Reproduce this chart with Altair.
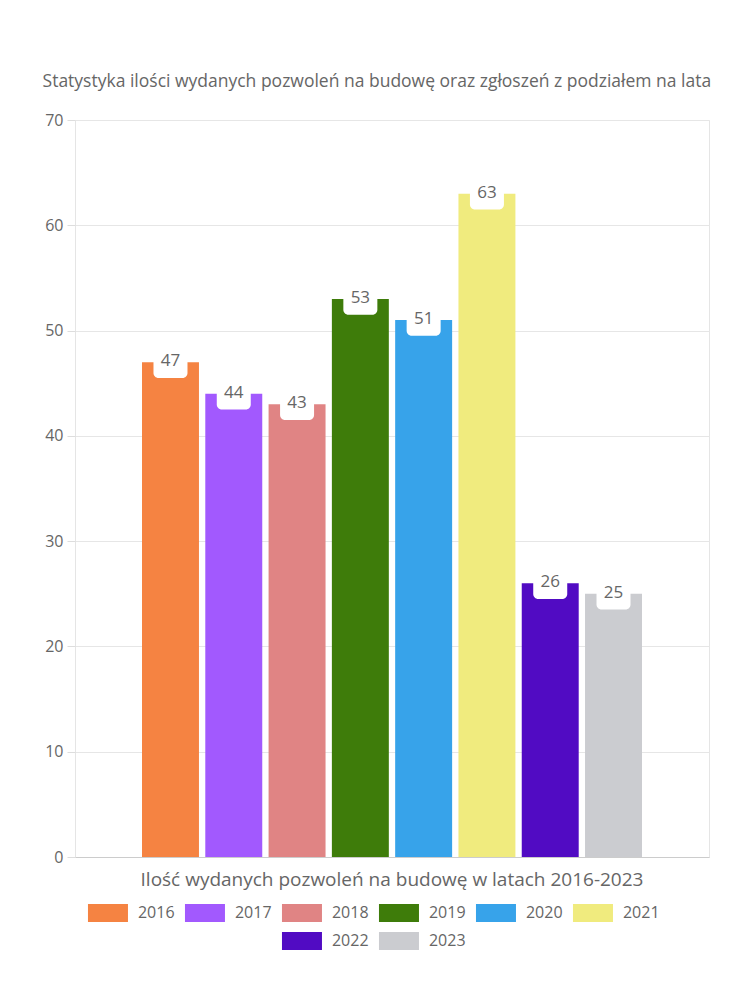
import altair as alt
import pandas as pd

FONT = "Open Sans"
GREY = "#666666"

title_text = "Statystyka ilości wydanych pozwoleń na budowę oraz zgłoszeń z podziałem na lata"
category = "Ilość wydanych pozwoleń na budowę w latach 2016-2023"
years = ["2016", "2017", "2018", "2019", "2020", "2021", "2022", "2023"]
values = [47, 44, 43, 53, 51, 63, 26, 25]
colors = ["#F58342", "#A259FE", "#E08484", "#3E7C0A", "#37A3EA", "#F0EB7E", "#510BC3", "#CBCCD0"]
y_ticks = [0, 10, 20, 30, 40, 50, 60, 70]

df = pd.DataFrame({"year": years, "value": values, "cat": [category] * len(years)})

color_scale = alt.Scale(domain=years, range=colors)

base = alt.Chart(df).encode(
    x=alt.X(
        "cat:N",
        scale=alt.Scale(paddingOuter=0.134, paddingInner=0),
        axis=alt.Axis(
            title=None, labelAngle=0, labelFontSize=19, labelColor=GREY, labelFont=FONT,
            ticks=False, domainColor="#cccccc", labelPadding=13, labelLimit=0,
        ),
    ),
    xOffset=alt.XOffset("year:N", sort=years, scale=alt.Scale(paddingInner=0.1, paddingOuter=0)),
)

yaxis = alt.Axis(
    title=None, values=y_ticks, labelFontSize=16, labelColor=GREY, labelFont=FONT,
    gridColor="#e6e6e6", tickColor="#dddddd", tickSize=8, labelPadding=4, domain=False,
)

bars = base.mark_bar().encode(
    y=alt.Y("value:Q", scale=alt.Scale(domain=[0, 70]), axis=yaxis),
    color=alt.Color("year:N", scale=color_scale, legend=None),
)

boxes = base.transform_calculate(
    lo="datum.value - 1.5", hi="datum.value + 1.5"
).mark_bar(color="white", width=34, cornerRadius=5).encode(
    y=alt.Y("lo:Q"), y2="hi:Q"
)

texts = base.mark_text(fontSize=17, color=GREY, font=FONT, baseline="middle", dy=-1).encode(
    y=alt.Y("value:Q"), text="value:Q"
)

main = alt.layer(bars, boxes, texts).properties(
    width=634, height=737, view=alt.ViewBackground(stroke="#e5e5e5")
)

# manual centered legend
leg_base = alt.Chart(pd.DataFrame({"year": years})).transform_window(
    idx="row_number()"
).transform_calculate(
    row="datum.idx <= 6 ? 0 : 1",
    col="datum.idx <= 6 ? datum.idx - 3.5 : datum.idx - 7.5",
).encode(
    x=alt.X("col:Q", scale=alt.Scale(domain=[-3.077, 3.459]), axis=None),
    y=alt.Y("row:O", axis=None, scale=alt.Scale(paddingInner=0, paddingOuter=0)),
)

leg_sym = leg_base.mark_point(
    shape="M-1,-0.45L1,-0.45L1,0.45L-1,0.45Z", size=1600, filled=True, opacity=1, xOffset=-23
).encode(color=alt.Color("year:N", scale=color_scale, legend=None))

leg_txt = leg_base.mark_text(
    align="left", baseline="middle", fontSize=16, color=GREY, font=FONT, dx=7
).encode(text="year:N")

legend = alt.layer(leg_sym, leg_txt).properties(
    width=634, height=56, view=alt.ViewBackground(stroke="transparent")
)

chart = alt.vconcat(main, legend, spacing=8).properties(
    title=alt.TitleParams(title_text, fontSize=17.5, color=GREY, font=FONT, fontWeight="normal",
                          anchor="middle", offset=21),
    padding={"left": 42, "top": 73, "right": 5, "bottom": 5},
)

chart.save("out.html", embed_options={"renderer": "svg", "actions": False})
